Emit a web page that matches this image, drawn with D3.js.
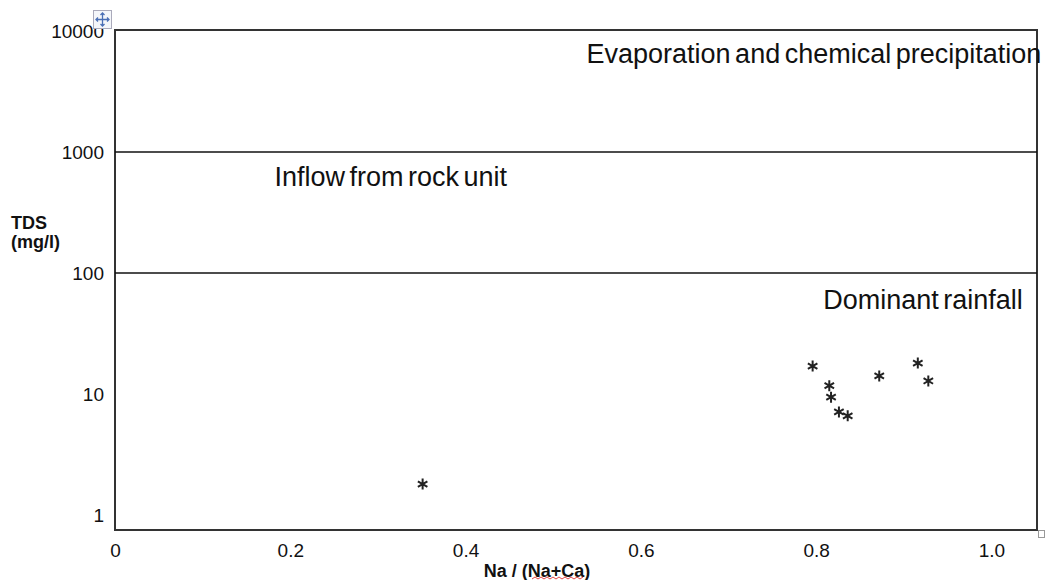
<!DOCTYPE html>
<html>
<head>
<meta charset="utf-8">
<script src="https://cdn.jsdelivr.net/npm/d3@7"></script>
<style>
  html, body { margin: 0; padding: 0; background: #fff; }
  svg text { font-family: "Liberation Sans", Arial, sans-serif; fill: #111; }
</style>
</head>
<body>
<svg id="chart" width="1045" height="580"></svg>
<script>
// ---- data ----
const ratioNa = [0.351, 0.796, 0.815, 0.817, 0.826, 0.836, 0.872, 0.916, 0.928];
const tdsValues = [1.8, 17.0, 11.7, 9.4, 7.1, 6.6, 14.1, 18.0, 12.8];
const xTickValues = [0, 0.2, 0.4, 0.6, 0.8, 1.0];
const xTickLabels = ["0", "0.2", "0.4", "0.6", "0.8", "1.0"];
const yTickValues = [1, 10, 100, 1000, 10000];
const yTickLabels = ["1", "10", "100", "1000", "10000"];
const boundaryValues = [100, 1000];
const regionLabels = ["Evaporation and chemical precipitation", "Inflow from rock unit", "Dominant rainfall"];
const regionX = [0.538, 0.182, 0.808];
const regionY = [5460, 525, 50.5];
const xTitle = "Na / (Na+Ca)";
const yTitle = ["TDS", "(mg/l)"];

// ---- layout ----
const svg = d3.select("#chart");
const mLeft = 115, mRight = 1037, mTop = 30, mBottom = 530;
const x = d3.scaleLinear().domain([0, 1.052]).range([mLeft, mRight]);
const y = d3.scaleLog().domain([0.751, 10190]).range([mBottom, mTop]);

// frame
svg.append("rect")
  .attr("x", mLeft).attr("y", mTop)
  .attr("width", mRight - mLeft).attr("height", mBottom - mTop)
  .attr("fill", "none").attr("stroke", "#333").attr("stroke-width", 2);

// boundary lines
svg.selectAll("line.boundary").data(boundaryValues).enter().append("line")
  .attr("class", "boundary")
  .attr("x1", mLeft).attr("x2", mRight)
  .attr("y1", d => y(d)).attr("y2", d => y(d))
  .attr("stroke", "#111").attr("stroke-width", 1.6);

// x axis labels (no tick marks)
const xAxis = d3.axisBottom(x).tickValues(xTickValues)
  .tickFormat((d, i) => xTickLabels[i]).tickSize(0).tickPadding(0);
const gx = svg.append("g").attr("transform", `translate(0,${mBottom})`).call(xAxis);
gx.select(".domain").remove();
gx.selectAll("text").attr("font-size", 19).attr("dy", null).attr("y", 27)
  .style("font-family", '"Liberation Sans", Arial, sans-serif').attr("fill", "#111");

// y axis labels
const yAxis = d3.axisLeft(y).tickValues(yTickValues)
  .tickFormat((d, i) => yTickLabels[i]).tickSize(0).tickPadding(0);
const gy = svg.append("g").attr("transform", `translate(${mLeft},0)`).call(yAxis);
gy.select(".domain").remove();
gy.selectAll("text").attr("font-size", 19).attr("x", -11).attr("dy", "0.35em")
  .style("font-family", '"Liberation Sans", Arial, sans-serif').attr("fill", "#111");

// region labels
svg.selectAll("text.region").data(regionLabels).enter().append("text")
  .attr("class", "region")
  .attr("x", (d, i) => x(regionX[i]))
  .attr("y", (d, i) => y(regionY[i]))
  .attr("font-size", 27)
  .attr("word-spacing", -3)
  .text(d => d);

// axis titles
svg.append("text").attr("x", 537).attr("y", 577).attr("text-anchor", "middle")
  .attr("font-size", 18).attr("font-weight", "bold").text(xTitle);
svg.append("text").attr("x", 11).attr("font-size", 18).attr("font-weight", "bold")
  .selectAll("tspan").data(yTitle).enter().append("tspan")
  .attr("x", 11).attr("y", (d, i) => 229 + i * 19).text(d => d);

// spell-check squiggle under "Na+Ca"
const sq = d3.range(0, 54, 3).map((d, i) => [532 + d, 577 + (i % 2 ? 0 : 2)]);
svg.append("path").attr("d", d3.line()(sq)).attr("fill", "none")
  .attr("stroke", "#e03030").attr("stroke-width", 0.9);

// markers
const sym = d3.symbol().type(d3.symbolAsterisk).size(85);
svg.selectAll("path.pt").data(ratioNa).enter().append("path")
  .attr("class", "pt")
  .attr("transform", (d, i) => `translate(${x(d)},${y(tdsValues[i])})`)
  .attr("d", sym)
  .attr("fill", "none").attr("stroke", "#222").attr("stroke-width", 2);

// move handle icon (top-left) and resize handle (bottom-right)
const icon = svg.append("g").attr("transform", "translate(93,10)");
icon.append("rect").attr("x", 0.5).attr("y", 0.5).attr("width", 18).attr("height", 18)
  .attr("fill", "#f4f6fa").attr("stroke", "#aab").attr("stroke-width", 1);
icon.append("path").attr("d", "M9.5 3 L9.5 16 M3 9.5 L16 9.5 M7.5 5 L9.5 3 L11.5 5 M7.5 14 L9.5 16 L11.5 14 M5 7.5 L3 9.5 L5 11.5 M14 7.5 L16 9.5 L14 11.5")
  .attr("stroke", "#4a6fb5").attr("stroke-width", 1.3).attr("fill", "none");
svg.append("rect").attr("x", 1038.5).attr("y", 530.5).attr("width", 6).attr("height", 7)
  .attr("fill", "#fff").attr("stroke", "#999").attr("stroke-width", 1);
</script>
</body>
</html>
